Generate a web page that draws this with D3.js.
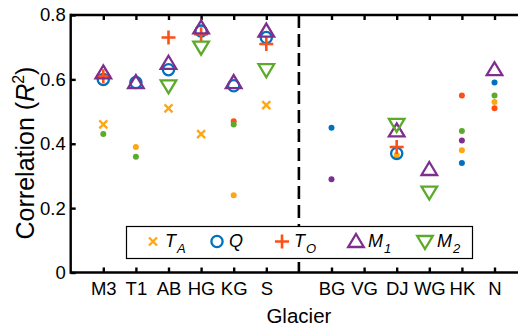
<!DOCTYPE html>
<html>
<head>
<meta charset="utf-8">
<script src="https://cdn.jsdelivr.net/npm/d3@7"></script>
<style>
  html, body { margin: 0; padding: 0; background: #fff; }
  svg { display: block; font-family: "Liberation Sans", Arial, sans-serif; }
</style>
</head>
<body>
<svg id="chart" width="518" height="328"></svg>
<script>
// Glacier sites: first group, then second group after the divider
const groupA = ["M3", "T1", "AB", "HG", "KG", "S"];
const groupB = ["BG", "VG", "DJ", "WG", "HK", "N"];
const glaciers = groupA.concat(groupB);

// R^2 per glacier, null = not available
const valuesTA = [0.46, 0.39, 0.51, 0.43, 0.24, 0.52, null, null, 0.365, null, 0.38, 0.53];
const valuesQ  = [0.60, 0.59, 0.63, 0.75, 0.58, 0.73, 0.45, null, 0.37, null, 0.34, 0.59];
const valuesTO = [0.61, null, 0.73, 0.74, 0.47, 0.71, null, null, 0.39, null, 0.55, 0.51];
const valuesM1 = [0.62, 0.59, 0.65, 0.76, 0.59, 0.75, 0.29, null, 0.44, 0.32, 0.41, 0.63];
const valuesM2 = [0.43, 0.36, 0.58, 0.70, 0.46, 0.63, null, null, 0.46, 0.25, 0.44, 0.55];

// 1 = significant (full marker), 0 = not significant (small dot)
const sigTA = [1, 0, 1, 1, 0, 1, 0, 0, 0, 0, 0, 0];
const sigQ  = [1, 1, 1, 1, 1, 1, 0, 0, 1, 0, 0, 0];
const sigTO = [1, 0, 1, 1, 0, 1, 0, 0, 1, 0, 0, 0];
const sigM1 = [1, 1, 1, 1, 1, 1, 0, 0, 1, 1, 0, 1];
const sigM2 = [0, 0, 1, 1, 0, 1, 0, 0, 1, 1, 0, 0];

const yTicks = [0, 0.2, 0.4, 0.6, 0.8];
const yTickLabels = ["0", "0.2", "0.4", "0.6", "0.8"];

const series = [
  { key: "TA", sub: "A", main: "T", values: valuesTA, sig: sigTA, color: "#FFA614", shape: "x" },
  { key: "Q",  sub: "",  main: "Q", values: valuesQ,  sig: sigQ,  color: "#0072BD", shape: "o" },
  { key: "TO", sub: "O", main: "T", values: valuesTO, sig: sigTO, color: "#FF4F17", shape: "+" },
  { key: "M1", sub: "1", main: "M", values: valuesM1, sig: sigM1, color: "#7E2F8E", shape: "tri" },
  { key: "M2", sub: "2", main: "M", values: valuesM2, sig: sigM2, color: "#5BAA2A", shape: "itri" }
];

const svg = d3.select("#chart");
const plotLeft = 70.7, plotTop = 15, plotBottom = 272.5;
const slotW = 32.6;
const nSlots = 14;

// slot index: first group at 1..6, divider at 7, second group at 8..13
const slotOf = i => i < groupA.length ? i + 1 : i + 2;
const dividerSlot = groupA.length + 1;

const x = d3.scaleLinear().domain([0, nSlots]).range([plotLeft, plotLeft + nSlots * slotW]);
const y = d3.scaleLinear().domain([0, 0.8]).range([plotBottom, plotTop]);

const axisColor = "#000";
const tickVals = glaciers.map((g, i) => slotOf(i));
const fontFam = '"Liberation Sans", Arial, sans-serif';
const tickFont = 18.5;

const xAxis = d3.axisBottom(x).tickValues(tickVals)
  .tickFormat(v => glaciers[tickVals.indexOf(v)]).tickSizeInner(-5).tickSizeOuter(0).tickPadding(9);
const gx = svg.append("g").attr("transform", `translate(0,${plotBottom})`).call(xAxis);
gx.select(".domain").attr("stroke-width", 2.4).attr("d", `M${plotLeft},0H${x(nSlots)}`);
gx.selectAll(".tick line").attr("stroke-width", 2.4);
gx.selectAll(".tick text").attr("font-size", tickFont).attr("fill", "#000").attr("font-family", fontFam);

const xTop = d3.axisTop(x).tickValues(tickVals).tickFormat("").tickSizeInner(-5).tickSizeOuter(0);
const gxt = svg.append("g").attr("transform", `translate(0,${plotTop})`).call(xTop);
gxt.select(".domain").attr("stroke-width", 2.4).attr("d", `M${plotLeft},0H${x(nSlots)}`);
gxt.selectAll(".tick line").attr("stroke-width", 2.4);

const yAxis = d3.axisLeft(y).tickValues(yTicks)
  .tickFormat((v, i) => yTickLabels[i]).tickSizeInner(-5).tickSizeOuter(0).tickPadding(5);
const gy = svg.append("g").attr("transform", `translate(${plotLeft},0)`).call(yAxis);
gy.select(".domain").attr("stroke-width", 2.4).attr("d", `M0,${plotBottom + 1.2}V${plotTop - 1.2}`);
gy.selectAll(".tick line").attr("stroke-width", 2.4);
gy.selectAll(".tick text").attr("font-size", tickFont).attr("fill", "#000").attr("font-family", fontFam);

// group divider
svg.append("line")
  .attr("x1", x(dividerSlot)).attr("x2", x(dividerSlot))
  .attr("y1", plotTop).attr("y2", plotBottom)
  .attr("stroke", axisColor).attr("stroke-width", 2.6)
  .attr("stroke-dasharray", "13,6");

// axis titles
svg.append("text")
  .attr("x", x(dividerSlot)).attr("y", 323)
  .attr("text-anchor", "middle").attr("font-size", 20.5).text("Glacier");

const yl = svg.append("text").attr("font-size", 25);
yl.append("tspan").text("Correlation (");
yl.append("tspan").attr("font-style", "italic").text("R");
yl.append("tspan").attr("font-size", 16).attr("dy", -10).text("2");
yl.append("tspan").attr("dy", 10).text(")");
const ylLen = yl.node().getComputedTextLength();
yl.attr("transform", `translate(34,${153 + ylLen / 2}) rotate(-90)`);

// marker drawing
function drawMarker(g, shape, color) {
  const sw = 2.3;
  if (shape === "x") {
    g.append("path").attr("d", "M-4,-4L4,4M-4,4L4,-4")
      .attr("stroke", color).attr("stroke-width", sw).attr("fill", "none");
  } else if (shape === "o") {
    g.append("circle").attr("r", 5.6)
      .attr("stroke", color).attr("stroke-width", sw).attr("fill", "none");
  } else if (shape === "+") {
    g.append("path").attr("d", "M-7,0H7M0,-7V7")
      .attr("stroke", color).attr("stroke-width", sw + 0.3).attr("fill", "none");
  } else if (shape === "tri") {
    g.append("path").attr("d", "M0,-7.5L7.8,5.5L-7.8,5.5Z")
      .attr("stroke", color).attr("stroke-width", sw).attr("fill", "none");
  } else if (shape === "itri") {
    g.append("path").attr("d", "M0,7.5L7.8,-5.5L-7.8,-5.5Z")
      .attr("stroke", color).attr("stroke-width", sw).attr("fill", "none");
  }
}

const marks = svg.append("g");
series.forEach(s => {
  s.values.forEach((v, i) => {
    if (v === null) return;
    const cx = x(slotOf(i)), cy = y(v);
    if (s.sig[i]) {
      drawMarker(marks.append("g").attr("transform", `translate(${cx},${cy})`), s.shape, s.color);
    } else {
      marks.append("circle").attr("cx", cx).attr("cy", cy).attr("r", 3).attr("fill", s.color);
    }
  });
});

// legend
const legend = svg.append("g");
legend.append("rect")
  .attr("x", 126.5).attr("y", 226.5).attr("width", 346).attr("height", 32)
  .attr("fill", "#fff").attr("stroke", "#000").attr("stroke-width", 1.2);
const legendX = [153, 217, 282, 356, 425];
series.forEach((s, k) => {
  const g = legend.append("g").attr("transform", `translate(${legendX[k]},241.5)`);
  drawMarker(g, s.shape, s.color);
  const t = g.append("text").attr("x", 12).attr("y", 5).attr("font-size", 18);
  t.append("tspan").attr("font-style", "italic").text(s.main);
  if (s.sub) t.append("tspan").attr("font-style", "italic").attr("font-size", 13).attr("dy", 6).attr("dx", 1).text(s.sub);
});
</script>
</body>
</html>
